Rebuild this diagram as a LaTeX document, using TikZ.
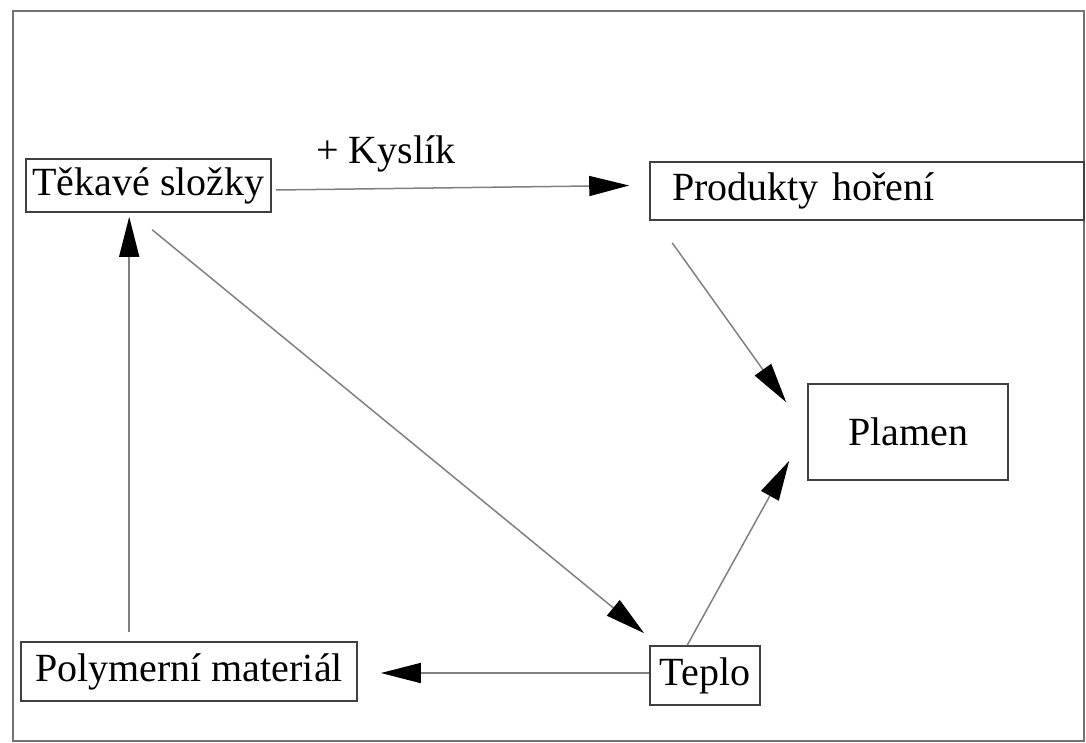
\documentclass[tikz,border=0pt]{standalone}
\usepackage{fontspec}
\setmainfont{Liberation Serif}
\usetikzlibrary{arrows.meta}
\begin{document}
\begin{tikzpicture}[x=1pt,y=-1pt,
  box/.style={draw=black!75, line width=1.6pt, inner sep=0pt, font=\fontsize{40}{48}\selectfont},
  arr/.style={draw=black!50, line width=1.5pt, -{Triangle[length=40pt,width=20pt,color=black]}},
  lbl/.style={font=\fontsize{40}{48}\selectfont, inner sep=0pt}]
\useasboundingbox (0,0) rectangle (1086,742);
\draw[black!55, line width=2pt] (13,11) rectangle (1084,741);
\node[box, minimum width=245pt, minimum height=53pt] (tek) at (148.5,185.5) {Těkavé složky};
\node[box, minimum height=58pt, text width=390pt, inner xsep=22pt, align=left] (prod) at (867,191) {Produkty hoření};
\node[box, minimum width=200pt, minimum height=96pt] (plamen) at (908,432) {Plamen};
\node[box, minimum width=110pt, minimum height=59pt] (teplo) at (705,675.5) {Teplo};
\node[box, minimum width=336pt, minimum height=59pt] (poly) at (189,671.5) {Polymerní materiál};
\node[lbl, anchor=base] (kys) at (386,163) {+ Kyslík};
\draw[arr] ([xshift=4pt,yshift=-4.5pt]tek.east) -- ([xshift=-20pt,yshift=5.5pt]prod.west);
\draw[arr] ([xshift=23pt,yshift=-22pt]prod.south west) -- ([xshift=-21pt,yshift=-19pt]plamen.north west);
\draw[arr] ([xshift=38pt]teplo.north west) -- ([xshift=-18pt,yshift=20pt]plamen.south west);
\draw[arr] ([xshift=127pt,yshift=-17pt]tek.south west) -- ([xshift=-5pt,yshift=12pt]teplo.north west);
\draw[arr] ([yshift=2.5pt]teplo.west) -- ([xshift=23pt,yshift=-1.5pt]poly.east);
\draw[arr] ([xshift=109pt,yshift=9pt]poly.north west) -- ([xshift=104pt,yshift=-4pt]tek.south west);
\end{tikzpicture}
\end{document}
